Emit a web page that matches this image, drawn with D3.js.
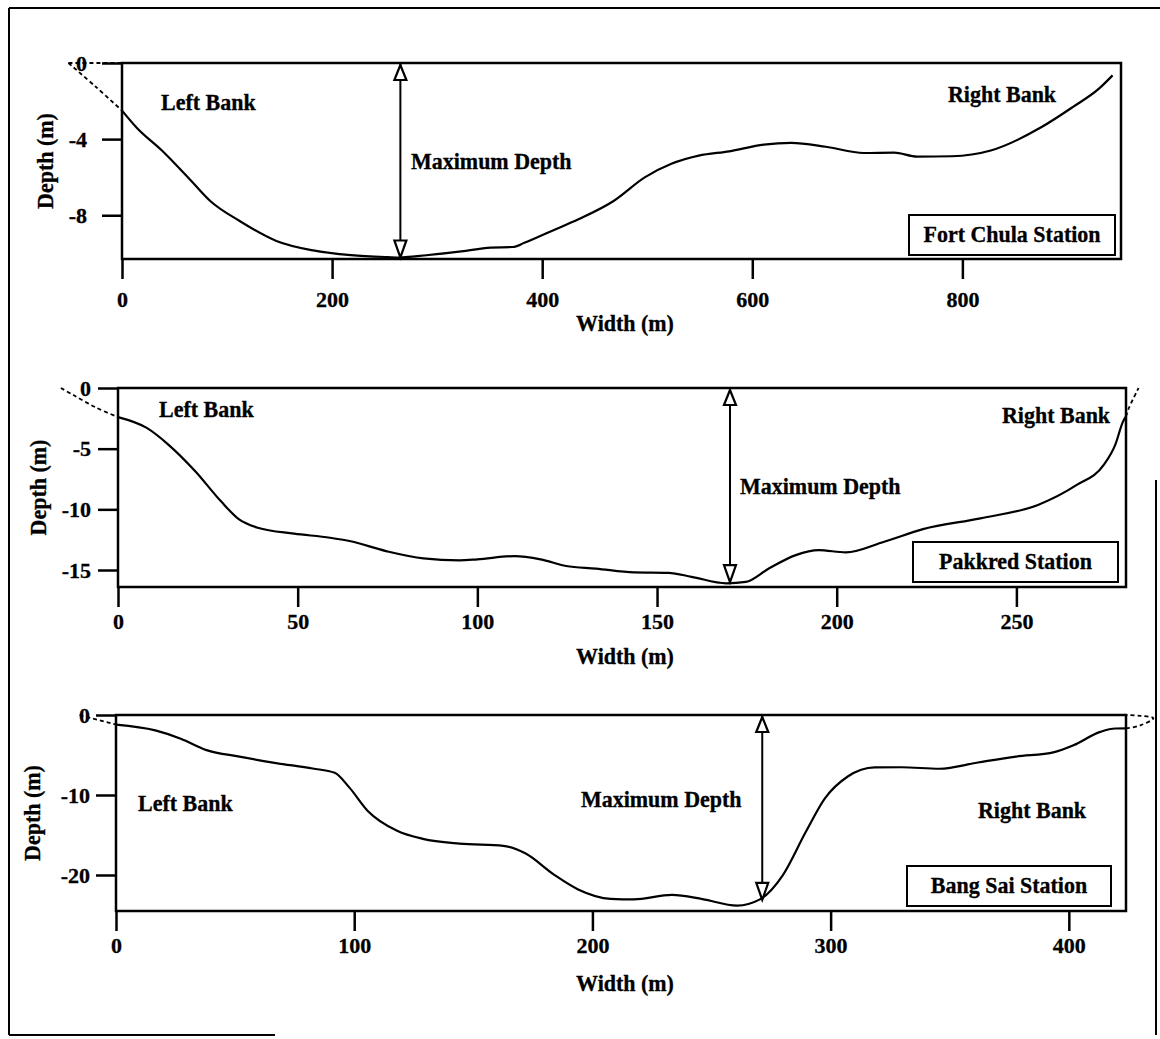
<!DOCTYPE html>
<html>
<head>
<meta charset="utf-8">
<script src="https://cdn.jsdelivr.net/npm/d3@7"></script>
<style>
  html, body { margin: 0; padding: 0; background: #fff; }
  svg text {
    font-family: "Liberation Serif", "Times New Roman", serif;
    font-weight: bold;
    font-size: 22px;
    fill: #000;
    stroke: #000;
    stroke-width: 0.3px;
  }
  svg text.tall {
    transform-box: fill-box;
    transform-origin: 50% 80%;
    transform: scaleY(1.08);
  }
</style>
</head>
<body>
<svg id="chart" width="1160" height="1039"></svg>
<script>
// ---- Fort Chula Station: bed profile (width in m, depth in m) ----
const fortChulaWidth = [0, 14, 38, 66, 84, 112, 147, 182, 218, 253, 265, 281, 323, 351, 372, 383, 408, 435, 468, 498, 523, 549, 578, 611, 637, 670, 706, 735, 757, 790, 827, 875, 905, 930, 943];
const fortChulaDepth = [-2.5, -3.4, -4.6, -6.2, -7.25, -8.3, -9.35, -9.85, -10.1, -10.2, -10.22, -10.15, -9.9, -9.7, -9.67, -9.45, -8.85, -8.2, -7.25, -6.0, -5.3, -4.87, -4.64, -4.29, -4.2, -4.4, -4.73, -4.71, -4.92, -4.9, -4.6, -3.38, -2.32, -1.35, -0.65];

// ---- Pakkred Station ----
const pakkredWidth = [0, 8, 14, 21.5, 28.6, 33.7, 38.9, 49, 59, 64.4, 74.6, 85, 95, 100, 110.4, 117.6, 124.7, 133, 143.6, 153.2, 159.6, 169.3, 174.7, 181.1, 188.6, 195, 202.5, 213.2, 224, 240, 256, 266.8, 274.3, 277.5, 279.7, 280.5];
const pakkredDepth = [-2.4, -3.29, -4.66, -6.86, -9.32, -10.83, -11.52, -12.0, -12.34, -12.61, -13.44, -14.04, -14.2, -14.12, -13.85, -14.12, -14.67, -14.88, -15.2, -15.23, -15.56, -16.1, -15.98, -14.88, -13.77, -13.36, -13.55, -12.67, -11.63, -10.74, -9.64, -7.99, -6.34, -4.68, -2.75, -2.34];

// ---- Bang Sai Station ----
const bangSaiWidth = [0, 16.5, 27.2, 38, 51.8, 67.2, 82.6, 91.8, 98, 105.7, 118, 128.8, 144.2, 162.6, 171.8, 184, 194, 207.7, 217.3, 233.4, 246.2, 260.7, 270.3, 279.9, 289.6, 297.6, 307.2, 318.5, 329.7, 345.7, 361.8, 377.8, 393.9, 401.9, 413.2, 419.5, 424];
const bangSaiDepth = [-1.2, -1.92, -2.96, -4.39, -5.2, -6.01, -6.69, -7.22, -9.08, -11.99, -14.47, -15.48, -16.08, -16.35, -17.29, -19.98, -21.8, -22.98, -23.05, -22.49, -23.01, -23.82, -23.05, -20.04, -14.6, -10.42, -7.69, -6.55, -6.53, -6.72, -5.94, -5.2, -4.64, -3.79, -2.11, -1.69, -1.68];

// Extrapolated banks above the surveyed section (dashed)
const fortChulaLeftExtW = [-51, -25, 0];
const fortChulaLeftExtD = [0, -1.25, -2.5];
const fortChulaSurfaceW = [-51, 0];
const pakkredLeftExtW = [-15.9, -12.3, -6.2, 0];
const pakkredLeftExtD = [0, -0.6, -1.6, -2.4];
const pakkredRightExtW = [280.5, 281.3, 284];
const pakkredRightExtD = [-2.34, -1.65, 0];
const bangSaiLeftExtW = [-15.3, 0];
const bangSaiLeftExtD = [0, -1.2];
const bangSaiRightExtW = [424, 430, 435.5, 430, 424];
const bangSaiRightExtD = [-1.68, -1.3, -0.4, -0.1, 0];

// Maximum depth locations
const maxDepthWidth = [265, 170.3, 271.3];
const maxDepthValue = [-10.22, -16.0, -23.1];

// Axis ticks
const fortChulaXTicks = [0, 200, 400, 600, 800];
const fortChulaYTicks = [0, -4, -8];
const pakkredXTicks = [0, 50, 100, 150, 200, 250];
const pakkredYTicks = [0, -5, -10, -15];
const bangSaiXTicks = [0, 100, 200, 300, 400];
const bangSaiYTicks = [0, -10, -20];

const stationNames = ["Fort Chula Station", "Pakkred Station", "Bang Sai Station"];
const bankLabels = ["Left Bank", "Right Bank"];
const maxDepthLabel = "Maximum Depth";
const xTitle = "Width (m)";
const yTitle = "Depth (m)";

// ---- panel layout (pixels) ----
const panels = [
  {
    w: fortChulaWidth, d: fortChulaDepth, xTicks: fortChulaXTicks, yTicks: fortChulaYTicks,
    xMax: 951, yMin: -10.3,
    left: 122, right: 1121, top: 63, bottom: 259,
    xPad: 12, yPad: 15, xTitleY: 331, yTitleX: 53,
    leftLbl: [161, 110], rightLbl: [948, 102], maxLbl: [411, 169],
    box: [909, 215, 206, 40], boxBase: 242,
    ext: [
      { w: fortChulaLeftExtW, d: fortChulaLeftExtD },
      { w: fortChulaSurfaceW, d: [0, 0] }
    ]
  },
  {
    w: pakkredWidth, d: pakkredDepth, xTicks: pakkredXTicks, yTicks: pakkredYTicks,
    xMax: 280.5, yMin: -16.4,
    left: 118, right: 1126, top: 388, bottom: 587,
    xPad: 6, yPad: 7, xTitleY: 664, yTitleX: 46,
    leftLbl: [159, 417], rightLbl: [1002, 423], maxLbl: [740, 494],
    box: [913, 542, 205, 40], boxBase: 569,
    ext: [
      { w: pakkredLeftExtW, d: pakkredLeftExtD },
      { w: pakkredRightExtW, d: pakkredRightExtD }
    ]
  },
  {
    w: bangSaiWidth, d: bangSaiDepth, xTicks: bangSaiXTicks, yTicks: bangSaiYTicks,
    xMax: 424, yMin: -24.5,
    left: 116, right: 1126, top: 715, bottom: 911,
    xPad: 6, yPad: 6, xTitleY: 991, yTitleX: 40,
    leftLbl: [138, 811], rightLbl: [978, 818], maxLbl: [581, 807],
    box: [907, 866, 204, 40], boxBase: 893,
    ext: [
      { w: bangSaiLeftExtW, d: bangSaiLeftExtD },
      { w: bangSaiRightExtW, d: bangSaiRightExtD }
    ]
  }
];

const svg = d3.select("#chart");

// outer frame of the figure
const frame = svg.append("g").attr("stroke", "#000").attr("stroke-width", 2).attr("fill", "none");
frame.append("line").attr("x1", 9).attr("y1", 8).attr("x2", 1160).attr("y2", 8);
frame.append("line").attr("x1", 9).attr("y1", 8).attr("x2", 9).attr("y2", 1035);
frame.append("line").attr("x1", 9).attr("y1", 1035).attr("x2", 275).attr("y2", 1035);
frame.append("line").attr("x1", 1156).attr("y1", 480).attr("x2", 1156).attr("y2", 1035);

panels.forEach((p, i) => {
  const x = d3.scaleLinear().domain([0, p.xMax]).range([p.left, p.right]);
  const y = d3.scaleLinear().domain([p.yMin, 0]).range([p.bottom, p.top]);
  const g = svg.append("g");

  // dashed extrapolated banks
  p.ext.forEach(e => {
    const pts = e.w.map((v, k) => [x(v), y(e.d[k])]);
    g.append("path")
      .attr("d", d3.line().curve(d3.curveCatmullRom)(pts))
      .attr("fill", "none").attr("stroke", "#000")
      .attr("stroke-width", 1.8).attr("stroke-dasharray", "4,3");
  });

  // x axis (ticks below the frame)
  const xAxis = g.append("g")
    .attr("transform", `translate(0,${p.bottom})`)
    .call(d3.axisBottom(x).tickValues(p.xTicks).tickSize(20).tickSizeOuter(0)
      .tickPadding(p.xPad).tickFormat(d => String(d)));
  // y axis (ticks to the left)
  const yAxis = g.append("g")
    .attr("transform", `translate(${p.left},0)`)
    .call(d3.axisLeft(y).tickValues(p.yTicks).tickSize(20).tickSizeOuter(0)
      .tickPadding(p.yPad).tickFormat(d => String(d)));
  [xAxis, yAxis].forEach(a => {
    a.select(".domain").remove();
    a.selectAll(".tick line").attr("stroke", "#000").attr("stroke-width", 2.5);
    a.selectAll(".tick text").attr("fill", "#000")
      .style("font-family", '"Liberation Serif", serif')
      .style("font-size", "22px").style("font-weight", "bold");
  });

  // plot frame
  g.append("rect")
    .attr("x", p.left).attr("y", p.top)
    .attr("width", p.right - p.left).attr("height", p.bottom - p.top)
    .attr("fill", "none").attr("stroke", "#000").attr("stroke-width", 2.5);

  // bed profile
  const pts = p.w.map((v, k) => [x(v), y(p.d[k])]);
  g.append("path")
    .attr("d", d3.line().curve(d3.curveMonotoneX)(pts))
    .attr("fill", "none").attr("stroke", "#000").attr("stroke-width", 2.2);

  // maximum depth double arrow
  const ax = x(maxDepthWidth[i]);
  const ay0 = y(0), ay1 = y(maxDepthValue[i]);
  g.append("line").attr("x1", ax).attr("x2", ax).attr("y1", ay0).attr("y2", ay1)
    .attr("stroke", "#000").attr("stroke-width", 2);
  const hw = 6, hl = 17;
  g.append("path")
    .attr("d", `M${ax},${ay0 + 2}L${ax - hw},${ay0 + hl}L${ax + hw},${ay0 + hl}Z`)
    .attr("fill", "#fff").attr("stroke", "#000").attr("stroke-width", 2.2);
  g.append("path")
    .attr("d", `M${ax},${ay1}L${ax - hw},${ay1 - hl}L${ax + hw},${ay1 - hl}Z`)
    .attr("fill", "#fff").attr("stroke", "#000").attr("stroke-width", 2.2);

  // labels
  g.append("text").attr("class", "tall").attr("x", p.leftLbl[0]).attr("y", p.leftLbl[1]).text(bankLabels[0]);
  g.append("text").attr("class", "tall").attr("x", p.rightLbl[0]).attr("y", p.rightLbl[1]).text(bankLabels[1]);
  g.append("text").attr("class", "tall").attr("x", p.maxLbl[0]).attr("y", p.maxLbl[1]).text(maxDepthLabel);

  // station name box
  g.append("rect")
    .attr("x", p.box[0]).attr("y", p.box[1]).attr("width", p.box[2]).attr("height", p.box[3])
    .attr("fill", "#fff").attr("stroke", "#000").attr("stroke-width", 2);
  g.append("text").attr("class", "tall").attr("x", p.box[0] + p.box[2] / 2).attr("y", p.boxBase)
    .attr("text-anchor", "middle").text(stationNames[i]);

  // axis titles
  g.append("text").attr("class", "tall").attr("x", 625).attr("y", p.xTitleY)
    .attr("text-anchor", "middle").text(xTitle);
  g.append("g")
    .attr("transform", `translate(${p.yTitleX},${(p.top + p.bottom) / 2}) rotate(-90)`)
    .append("text").attr("class", "tall")
    .attr("text-anchor", "middle").text(yTitle);
});
</script>
</body>
</html>
